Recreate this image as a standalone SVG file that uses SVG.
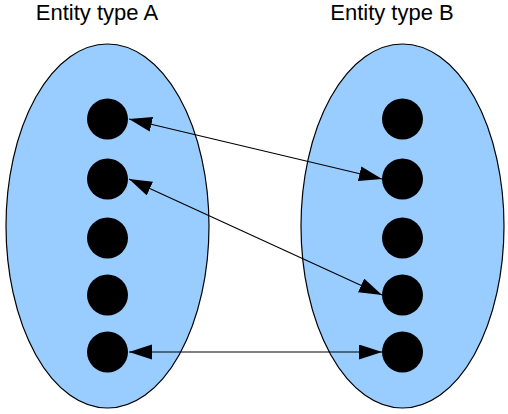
<svg xmlns="http://www.w3.org/2000/svg" width="508" height="414" viewBox="0 0 508 414">
<defs>
<style>
.set{fill:#99ccff;stroke:#000;stroke-width:1.2}
.dot{fill:#000}
.lbl{font-family:"Liberation Sans",Arial,sans-serif;font-size:22px;fill:#000;text-anchor:middle}
.conn{stroke:#000;stroke-width:1.1;fill:none;marker-start:url(#ah);marker-end:url(#ah)}
</style>
<marker id="ah" markerUnits="userSpaceOnUse" markerWidth="24" markerHeight="16" refX="23" refY="7.5" orient="auto-start-reverse" viewBox="0 0 24 16">
<path d="M0,0 L23,7.5 L0,15 z" fill="#000"/>
</marker>
</defs>
<rect width="508" height="414" fill="#fff"/>
<g id="setA">
<ellipse class="set" cx="107.5" cy="226" rx="101.5" ry="182"/>
<text class="lbl" x="97" y="20">Entity type A</text>
</g>
<g id="setB">
<ellipse class="set" cx="402.5" cy="226" rx="101.5" ry="182"/>
<text class="lbl" x="392" y="20">Entity type B</text>
</g>
<g id="a1"><circle class="dot" cx="107.5" cy="119" r="20.5"/></g>
<g id="a2"><circle class="dot" cx="107.5" cy="179" r="20.5"/></g>
<g id="a3"><circle class="dot" cx="107.5" cy="238" r="20.5"/></g>
<g id="a4"><circle class="dot" cx="107.5" cy="295" r="20.5"/></g>
<g id="a5"><circle class="dot" cx="107.5" cy="352" r="20.5"/></g>
<g id="b1"><circle class="dot" cx="402.5" cy="119" r="20.5"/></g>
<g id="b2"><circle class="dot" cx="402.5" cy="179" r="20.5"/></g>
<g id="b3"><circle class="dot" cx="402.5" cy="238" r="20.5"/></g>
<g id="b4"><circle class="dot" cx="402.5" cy="295" r="20.5"/></g>
<g id="b5"><circle class="dot" cx="402.5" cy="352" r="20.5"/></g>
<g id="connectors">
<line class="conn" x1="129" y1="119" x2="382" y2="179"/>
<line class="conn" x1="129" y1="179" x2="382" y2="295"/>
<line class="conn" x1="129" y1="352" x2="382" y2="352"/>
</g>
</svg>
